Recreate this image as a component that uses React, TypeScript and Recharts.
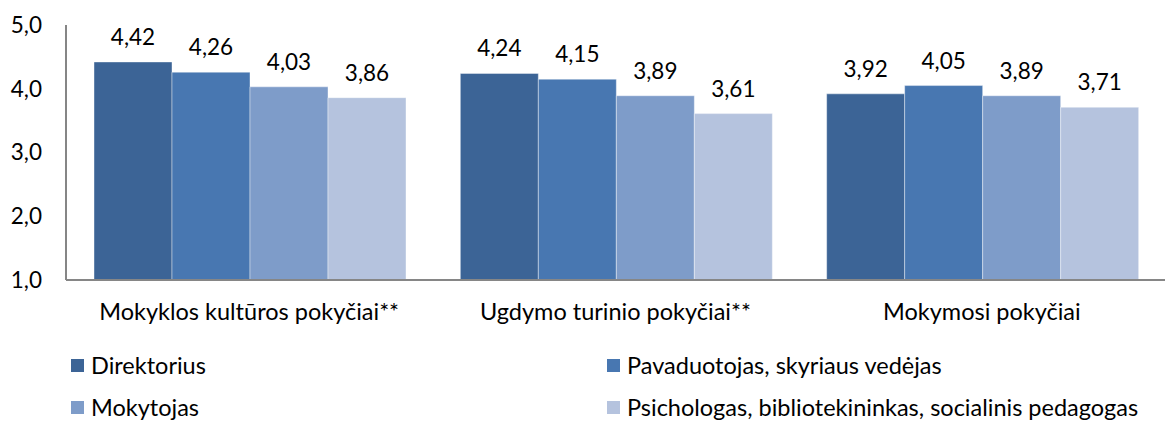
import React from 'react';
import { BarChart, Bar, XAxis, YAxis, LabelList } from 'recharts';

const categories = ['Mokyklos kultūros pokyčiai**', 'Ugdymo turinio pokyčiai**', 'Mokymosi pokyčiai'];
const direktorius = [4.42, 4.24, 3.92];
const pavaduotojas = [4.26, 4.15, 4.05];
const mokytojas = [4.03, 3.89, 3.89];
const psichologas = [3.86, 3.61, 3.71];
const yTicks = [1, 2, 3, 4, 5];

const seriesNames = [
  'Direktorius',
  'Pavaduotojas, skyriaus vedėjas',
  'Mokytojas',
  'Psichologas, bibliotekininkas, socialinis pedagogas',
];
const colors = ['#3C6496', '#4877B1', '#7E9CC9', '#B5C3DE'];

const data = categories.map((c, i) => ({
  name: c,
  s0: direktorius[i],
  s1: pavaduotojas[i],
  s2: mokytojas[i],
  s3: psichologas[i],
}));

const FONT = 'Lato, "Open Sans", sans-serif';
const FS = 22.5;
const FS2 = 23.5;
const fmt = (v: any) => Number(v).toFixed(2).replace('.', ',');
const fmtY = (v: any) => Number(v).toFixed(1).replace('.', ',');

export default function App() {
  return (
    <div style={{ position: 'fixed', left: 0, top: 0, width: 1165, height: 421, background: '#fff', fontFamily: FONT, overflow: 'hidden' }}>
      <BarChart
        width={1165}
        height={421}
        data={data}
        margin={{ top: 25, right: 0, left: 0, bottom: 101 }}
        barCategoryGap={28}
        barGap={0}
      >
        <XAxis
          dataKey="name"
          axisLine={{ stroke: '#868686', strokeWidth: 2 }}
          tickLine={false}
          tickSize={0}
          tickMargin={23}
          height={40}
          interval={0}
          tick={{ fill: '#000', fontSize: FS2, fontFamily: FONT }}
        />
        <YAxis
          domain={[1, 5]}
          ticks={yTicks}
          width={66}
          axisLine={{ stroke: '#868686', strokeWidth: 2 }}
          tickLine={false}
          tickSize={0}
          tickMargin={24}
          tickFormatter={fmtY}
          tick={{ fill: '#000', fontSize: FS, fontFamily: FONT }}
          allowDataOverflow
        />
        {['s0', 's1', 's2', 's3'].map((k, i) => (
          <Bar key={k} dataKey={k} fill={colors[i]} stroke="#ffffff" strokeOpacity={0.4} strokeWidth={1} isAnimationActive={false}>
            <LabelList dataKey={k} position="top" offset={17} formatter={fmt} style={{ fill: '#000', fontSize: FS, fontFamily: FONT }} />
          </Bar>
        ))}
      </BarChart>
      {seriesNames.map((n, i) => (
        <div
          key={n}
          style={{
            position: 'absolute',
            left: i % 2 === 0 ? 71 : 607,
            top: i < 2 ? 353 : 395,
            display: 'flex',
            alignItems: 'center',
            fontSize: FS2,
            color: '#000',
            lineHeight: '24px',
            height: 24,
            whiteSpace: 'nowrap',
          }}
        >
          <span style={{ display: 'inline-block', width: 13, height: 13, background: colors[i], marginRight: 7 }} />
          {n}
        </div>
      ))}
    </div>
  );
}
